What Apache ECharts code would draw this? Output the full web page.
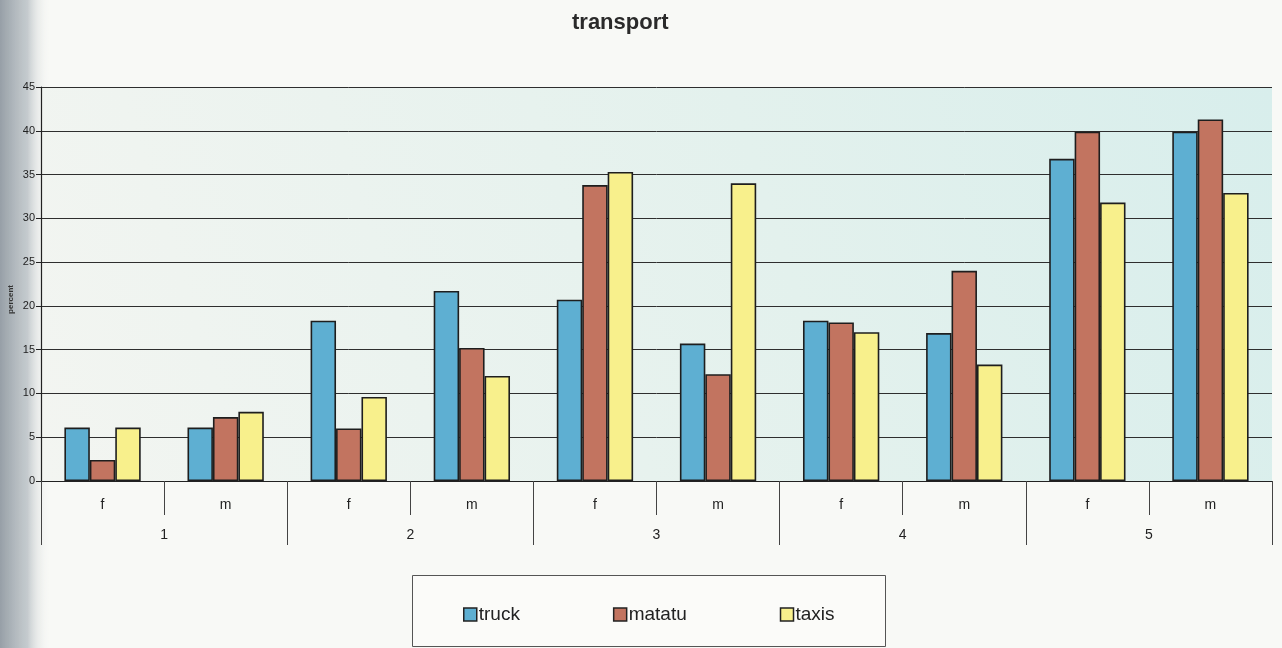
<!DOCTYPE html>
<html>
<head>
<meta charset="utf-8">
<script src="https://cdn.jsdelivr.net/npm/echarts@6/dist/echarts.min.js"></script>
<style>
  html, body { margin: 0; padding: 0; background: #f8f9f6; }
  #chart { width: 1282px; height: 648px; }
</style>
</head>
<body>
<div id="chart"></div>
<script>
// Gender sub-categories and the age groups they belong to
const genders = ['f', 'm', 'f', 'm', 'f', 'm', 'f', 'm', 'f', 'm'];
const groups = ['1', '2', '3', '4', '5'];

// Percent using each mode of transport
const truck  = [6.1, 6.1, 18.3, 21.7, 20.7, 15.7, 18.3, 16.9, 36.8, 39.9];
const matatu = [2.4, 7.3, 6.0, 15.2, 33.8, 12.2, 18.1, 24.0, 39.9, 41.3];
const taxis  = [6.1, 7.9, 9.6, 12.0, 35.3, 34.0, 17.0, 13.3, 31.8, 32.9];

const seriesNames = ['truck', 'matatu', 'taxis'];
const seriesData = [truck, matatu, taxis];
const seriesColors = ['#5eafd2', '#c27460', '#f8f08c'];

const chart = echarts.init(document.getElementById('chart'), null, { renderer: 'canvas' });

const font = 'Liberation Sans, Arial, sans-serif';

chart.setOption({
  animation: false,
  backgroundColor: 'transparent',
  textStyle: { fontFamily: font },
  title: {
    text: 'transport',
    left: 567,
    top: 7,
    textStyle: { fontSize: 22, fontWeight: 'bold', color: '#2a2a2a', fontFamily: font }
  },
  graphic: [
    {
      // shading down the left edge
      type: 'rect', z: -10, silent: true,
      shape: { x: 0, y: 0, width: 50, height: 648 },
      style: {
        fill: new echarts.graphic.LinearGradient(0, 0, 1, 0, [
          { offset: 0, color: 'rgba(145,154,162,0.95)' },
          { offset: 0.55, color: 'rgba(175,183,189,0.7)' },
          { offset: 1, color: 'rgba(248,249,246,0)' }
        ])
      }
    },
    {
      // legend frame
      type: 'rect', z: 5, silent: true,
      shape: { x: 412.5, y: 575.5, width: 473, height: 71 },
      style: { fill: '#fbfbf9', stroke: '#555', lineWidth: 1 }
    },
    {
      type: 'text', z: 5, silent: true,
      left: 7, top: 285,
      rotation: Math.PI / 2,
      style: { text: 'percent', font: 'bold 8px Liberation Sans, Arial, sans-serif', fill: '#333' }
    }
  ],
  legend: {
    data: seriesNames,
    left: 458,
    top: 600,
    itemWidth: 13,
    itemHeight: 13,
    itemGap: 93,
    z: 10,
    icon: 'rect',
    textStyle: { fontSize: 19, color: '#222', padding: [0, 0, 0, -3], fontFamily: font },
    itemStyle: { borderColor: '#222', borderWidth: 1.5 }
  },
  grid: {
    left: 41, right: 10, top: 87, bottom: 167,
    show: true,
    borderWidth: 0,
    backgroundColor: new echarts.graphic.LinearGradient(0, 1, 1, 0, [
      { offset: 0, color: '#f3f5f1' },
      { offset: 0.6, color: '#e3f1ed' },
      { offset: 1, color: '#d8eeec' }
    ])
  },
  xAxis: [
    {
      type: 'category',
      data: genders,
      position: 'bottom',
      axisLine: { show: true, lineStyle: { color: '#222', width: 1.2 } },
      axisTick: { show: true, length: 34, interval: 0, lineStyle: { color: '#444', width: 1 } },
      axisLabel: { interval: 0, margin: 17, fontSize: 14, color: '#222' }
    },
    {
      type: 'category',
      data: groups,
      position: 'bottom',
      axisLine: { show: false },
      axisTick: { show: true, length: 64, interval: 0, lineStyle: { color: '#444', width: 1 } },
      axisLabel: { interval: 0, margin: 47, fontSize: 14, color: '#222' }
    }
  ],
  yAxis: {
    type: 'value',
    min: 0, max: 45, interval: 5,
    axisLine: { show: true, lineStyle: { color: '#222', width: 1.2 } },
    axisTick: { show: true, length: 5, lineStyle: { color: '#222' } },
    axisLabel: { fontSize: 11, color: '#222', margin: 6 },
    splitLine: { show: true, lineStyle: { color: '#2e2e2e', width: 1 } }
  },
  series: seriesNames.map((name, i) => ({
    name,
    type: 'bar',
    xAxisIndex: 0,
    data: seriesData[i],
    barGap: '0%',
    barCategoryGap: '38%',
    itemStyle: { color: seriesColors[i], borderColor: '#1e1e1e', borderWidth: 1.6 }
  }))
});
</script>
</body>
</html>
